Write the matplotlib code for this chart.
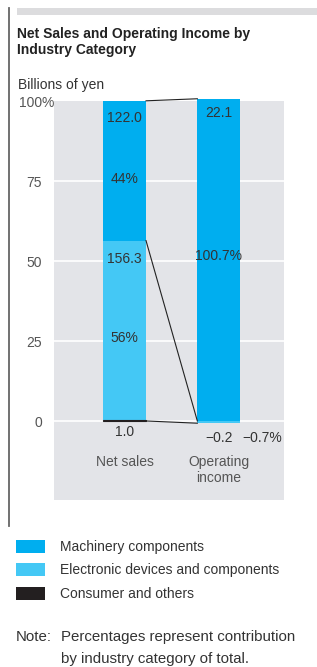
import matplotlib
matplotlib.use("Agg")
import matplotlib.pyplot as plt
from matplotlib.patches import Rectangle
from matplotlib.lines import Line2D

plt.rcParams["font.family"] = ["Liberation Sans", "DejaVu Sans"]

# data (percent of total)
categories = ["Net sales", "Operating\nincome"]
segments = ["Machinery components", "Electronic devices and components",
            "Consumer and others"]
machinery_pct = [43.7, 100.7]
electronic_pct = [56.0, -0.7]
consumer_pct = [0.36, 0.0]
machinery_val = ["122.0", "22.1"]
electronic_val = ["156.3", "\u22120.2"]
consumer_val = ["1.0", ""]
share_labels = ["44%", "56%", "100.7%", "\u22120.7%"]
yticks = [0, 25, 50, 75, 100]

colors = ["#00AEEF", "#44C8F5", "#231F20"]
grey_bg = "#E3E4E8"
txt = "#333333"

W, H = 317, 667
fig = plt.figure(figsize=(W / 100, H / 100), dpi=100)

# decorations: left rule and top grey band
fig.add_artist(Line2D([9 / W, 9 / W], [1 - 8 / H, 1 - 526 / H],
                      color="#666666", lw=1.3))
fig.add_artist(Rectangle((17 / W, 1 - 14.5 / H), 1 - 17 / W, 6 / H,
                         color="#DCDCDE", lw=0))

fig.text(17 / W, 1 - 42 / H, "Net Sales and Operating Income by\nIndustry Category",
         fontsize=10, fontweight="bold", color="#222222", va="center",
         linespacing=1.2)
fig.text(18 / W, 1 - 85 / H, "Billions of yen", fontsize=10, color=txt, va="center")

ax = fig.add_axes([54 / W, 1 - 500 / H, 230 / W, 399 / H])
ax.set_facecolor(grey_bg)
for s in ax.spines.values():
    s.set_visible(False)
ax.set_xlim(-0.752, 1.695)
ax.set_ylim(-24.7, 100)
ax.set_xticks([])
ax.set_yticks([])
for t in yticks[:-1]:
    ax.axhline(t, color="white", lw=1.2, zorder=1)

x = [0, 1]
bw = 0.454
# stacks: consumer at bottom, electronics, machinery on top
for i in x:
    if electronic_pct[i] >= 0:
        b_elec = consumer_pct[i]
        b_mach = consumer_pct[i] + electronic_pct[i]
    else:
        b_elec = 0
        b_mach = 0
    ax.bar(i, machinery_pct[i], bw, bottom=b_mach, color=colors[0], zorder=2,
           clip_on=False)
    ax.bar(i, electronic_pct[i], bw, bottom=b_elec, color=colors[1], zorder=2,
           clip_on=False)
    if consumer_pct[i] > 0:
        ax.bar(i, consumer_pct[i], bw, bottom=0, color=colors[2], zorder=3,
               linewidth=0.8, edgecolor=colors[2])

# connector lines between bars
top0 = consumer_pct[0] + electronic_pct[0] + machinery_pct[0]
top1 = machinery_pct[1]
split0 = consumer_pct[0] + electronic_pct[0]
r0 = 0 + bw / 2
l1 = 1 - bw / 2
for y0, y1 in [(top0, top1), (split0, 0), (0, electronic_pct[1])]:
    ax.plot([r0, l1], [y0, y1], color="#222222", lw=0.8, zorder=4, clip_on=False)

fs = 10
# value labels
ax.text(0, top0 - 5.5, machinery_val[0], ha="center", va="center", fontsize=fs, color=txt, zorder=5)
ax.text(0, 75.5, share_labels[0], ha="center", va="center", fontsize=fs, color=txt, zorder=5)
ax.text(0, 50.5, electronic_val[0], ha="center", va="center", fontsize=fs, color=txt, zorder=5)
ax.text(0, 26, share_labels[1], ha="center", va="center", fontsize=fs, color=txt, zorder=5)
ax.text(0, -3.5, consumer_val[0], ha="center", va="center", fontsize=fs, color=txt, zorder=5)
ax.text(1, top1 - 4.5, machinery_val[1], ha="center", va="center", fontsize=fs, color=txt, zorder=5)
ax.text(1, 51.5, share_labels[2], ha="center", va="center", fontsize=fs, color=txt, zorder=5)
ax.text(1, -5.3, electronic_val[1], ha="center", va="center", fontsize=fs, color=txt, zorder=5)
ax.text(1.465, -5.3, share_labels[3], ha="center", va="center", fontsize=fs, color=txt, zorder=5)

# category labels
for i, c in enumerate(categories):
    if "\n" in c:
        ax.text(i, -15.3, c, ha="center", va="center", fontsize=fs,
                color="#555555", linespacing=1.15)
    else:
        ax.text(i, -12.8, c, ha="center", va="center", fontsize=fs,
                color="#555555")

# y tick labels, numbers right aligned with the % hanging out
tx = ax.get_yaxis_transform()
for t in yticks:
    ax.text(-12 / 230, t - 0.6, str(t), transform=tx, ha="right", va="center",
            fontsize=fs, color="#555555")
ax.text(-12 / 230, 100 - 0.6, "%", transform=tx, ha="left", va="center",
        fontsize=fs, color="#555555")

# legend
leg_y = [546.3, 569.3, 593.3]
for c, lab, yy in zip(colors, segments, leg_y):
    fig.add_artist(Rectangle((16 / W, 1 - (yy + 6.5) / H), 29 / W, 13 / H,
                             color=c, lw=0))
    fig.text(59.5 / W, 1 - (yy + 1) / H, lab, fontsize=fs, color=txt, va="center")

fig.text(16 / W, 1 - 637 / H, "Note:", fontsize=10.8, color=txt, va="center")
fig.text(61 / W, 1 - 637 / H, "Percentages represent contribution",
         fontsize=10.8, color=txt, va="center")
fig.text(61 / W, 1 - 658.5 / H, "by industry category of total.",
         fontsize=10.8, color=txt, va="center")

fig.savefig("out.png", dpi=100)
